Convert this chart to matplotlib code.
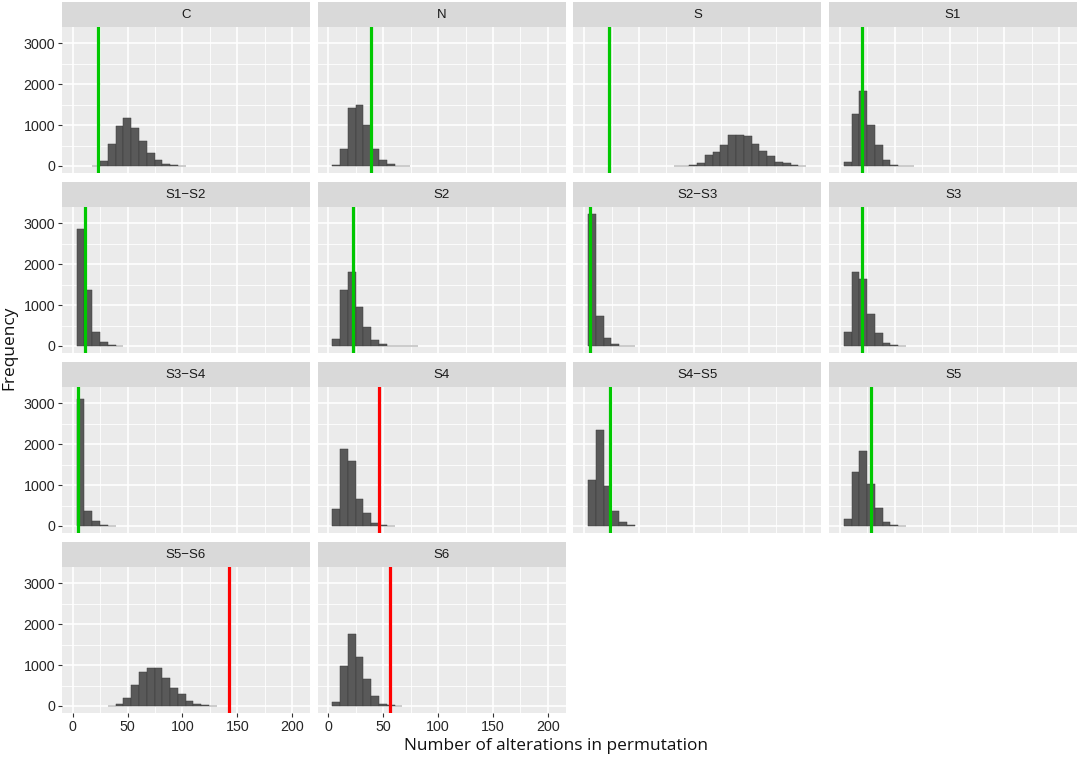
import numpy as np
import matplotlib
matplotlib.use("Agg")
import matplotlib.pyplot as plt

# facet labels (R prints the hyphen as a minus sign)
panels = ["C", "N", "S", "S1",
          "S1\u2212S2", "S2", "S2\u2212S3", "S3",
          "S3\u2212S4", "S4", "S4\u2212S5", "S5",
          "S5\u2212S6", "S6"]

# histogram bins: centred on k * bin_width
bin_width = 7.1
first_bin = [3, 1, 12, 1,
             1, 1, 1, 1,
             1, 1, 1, 1,
             5, 1]
counts = [
    [5, 120, 549, 984, 1172, 918, 607, 320, 156, 57, 16, 3],                          # C
    [16, 410, 1410, 1492, 1008, 410, 148, 41, 10, 3],                                   # N
    [3, 3, 33, 82, 270, 352, 525, 762, 762, 738, 533, 369, 246, 107, 66, 25, 8],        # S
    [107, 1270, 1844, 1000, 525, 140, 33, 8, 3],                                        # S1
    [2853, 1369, 342, 98, 16, 3],                                                       # S1-S2
    [180, 1361, 1817, 954, 473, 147, 41, 10, 5, 3, 3],                                  # S2
    [3219, 733, 204, 49, 8, 3],                                                         # S2-S3
    [350, 1817, 1630, 774, 310, 65, 16, 3],                                             # S3
    [3115, 377, 131, 25, 5],                                                            # S3-S4
    [410, 1885, 1598, 656, 311, 66, 20, 5],                                             # S4
    [1134, 2342, 986, 378, 107, 16],                                                    # S4-S5
    [164, 1323, 1824, 1027, 452, 107, 16, 4],                                           # S5
    [3, 57, 187, 503, 835, 933, 933, 673, 438, 300, 122, 57, 25, 8],                    # S5-S6
    [97, 990, 1768, 1200, 649, 235, 57, 16, 3],                                         # S6
]
# observed number of alterations and whether it is outside the permutation range
observed = [23, 39, 23, 20.5,
            11.4, 22, 5.2, 20.5,
            4.6, 46.4, 23.2, 28.7,
            142.3, 56.2]
significant = [False, False, False, False,
               False, False, False, False,
               False, True, False, False,
               True, True]

x_ticks = [0, 50, 100, 150, 200]
y_ticks = [0, 1000, 2000, 3000]

W, H = 1084, 760
fig = plt.figure(figsize=(W / 100, H / 100), dpi=100)
fig.patch.set_facecolor("white")

ncol = 4
left0, col_step, pw = 62, 255.7, 248
top0, row_step, sh, ph = 1.7, 180, 25.6, 145.4
tick_font = dict(family=["Liberation Sans", "DejaVu Sans"], size=10.3)
strip_font = dict(family=["Liberation Sans", "DejaVu Sans"], size=9.5)

for i, name in enumerate(panels):
    r, c = divmod(i, ncol)
    left = left0 + c * col_step
    stop = top0 + r * row_step
    ax = fig.add_axes([left / W, 1 - (stop + sh + ph) / H, pw / W, ph / H])
    st = fig.add_axes([left / W, 1 - (stop + sh) / H, pw / W, sh / H])

    st.set_facecolor("#D9D9D9")
    st.set_xticks([])
    st.set_yticks([])
    for sp in st.spines.values():
        sp.set_visible(False)
    st.text(0.5, 0.48, name, ha="center", va="center", color="#1A1A1A",
            transform=st.transAxes, **strip_font)

    ax.set_facecolor("#EBEBEB")
    for sp in ax.spines.values():
        sp.set_visible(False)
    ax.set_axisbelow(True)

    k = np.arange(first_bin[i], first_bin[i] + len(counts[i]))
    ax.bar(k * bin_width, counts[i], width=bin_width, color="#595959",
           edgecolor="#3C3C3C", linewidth=0.35)
    ax.axvline(observed[i], color="#FF0000" if significant[i] else "#00C800",
               linewidth=2.3, zorder=5)

    ax.set_xlim(-9.8, 216.3)
    ax.set_ylim(-164, 3391)
    ax.set_xticks(x_ticks)
    ax.set_yticks(y_ticks)
    ax.set_xticks([25, 75, 125, 175], minor=True)
    ax.set_yticks([500, 1500, 2500], minor=True)
    ax.grid(which="major", color="white", linewidth=1.2)
    ax.grid(which="minor", color="white", linewidth=0.6)

    ax.tick_params(which="minor", length=0)
    ax.tick_params(which="major", color="#333333", width=0.8, length=2.75, pad=2.2)
    if c == 0:
        ax.set_yticklabels([str(v) for v in y_ticks], color="#262626", **tick_font)
    else:
        ax.tick_params(axis="y", which="major", length=0, labelleft=False)
    if r == 3:
        ax.set_xticklabels([str(v) for v in x_ticks], color="#262626", **tick_font)
    else:
        ax.tick_params(axis="x", which="major", length=0, labelbottom=False)

title_font = dict(family=["Open Sans", "DejaVu Sans"], size=12.4, color="#111111")
fig.text(556 / W, 1 - 746 / H, "Number of alterations in permutation",
         ha="center", va="center", **title_font)
fig.text(9 / W, 1 - 348 / H, "Frequency", rotation=90,
         ha="center", va="center", **title_font)

fig.savefig("out.png", dpi=100)
